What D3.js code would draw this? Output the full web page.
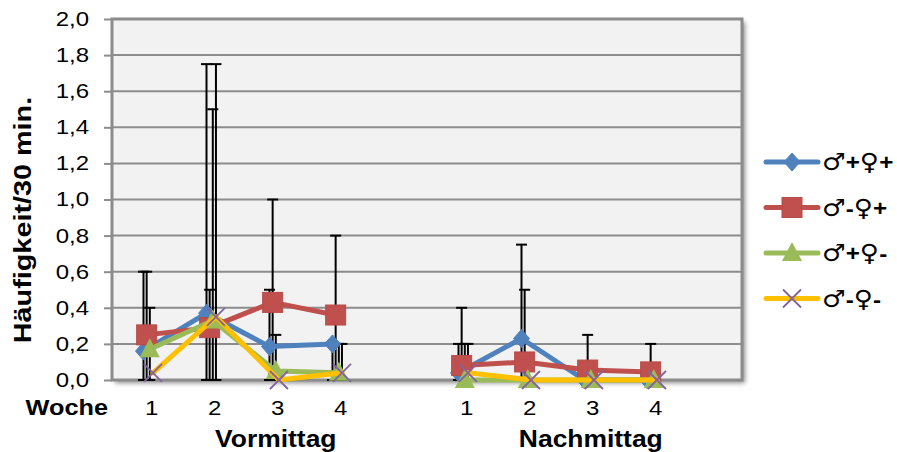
<!DOCTYPE html>
<html>
<head>
<meta charset="utf-8">
<script src="https://cdn.jsdelivr.net/npm/d3@7"></script>
<style>
  body { margin: 0; background: #fff; }
  text { font-family: "Liberation Sans", Arial, sans-serif; fill: #000; }
</style>
</head>
<body>
<svg id="chart" width="897" height="452"></svg>
<script>
// week positions on the x scale (gap between the two day parts)
var weekPos = [1, 2, 3, 4, 6, 7, 8, 9];
var weekLabels = ["1", "2", "3", "4", "1", "2", "3", "4"];
var groupLabels = ["Vormittag", "Nachmittag"];
var yTicks = [0, 0.2, 0.4, 0.6, 0.8, 1.0, 1.2, 1.4, 1.6, 1.8, 2.0];

var seriesNames = ["♂+♀+", "♂-♀+", "♂+♀-", "♂-♀-"];
// means per week (Vm 1-4, Nm 1-4)
var mPlusFPlus  = [0.16, 0.37, 0.185, 0.20, 0.04, 0.23, 0.00, 0.00];
var mMinusFPlus = [0.25, 0.29, 0.43, 0.36, 0.08, 0.10, 0.055, 0.045];
var mPlusFMinus = [0.17, 0.33, 0.05, 0.04, 0.00, 0.00, 0.00, 0.00];
var mMinusFMinus = [0.04, 0.35, 0.00, 0.04, 0.04, 0.00, 0.00, 0.00];
// upper end of the error bars (lower end is 0)
var hiPlusFPlus  = [0.6, 1.75, 0.5, 0.2, 0.2, 0.75, 0, 0];
var hiMinusFPlus = [0.6, 0.5, 1.0, 0.8, 0.4, 0.5, 0.25, 0.2];
var hiPlusFMinus = [0.4, 1.5, 0.25, 0.2, 0.2, 0, 0, 0];
var hiMinusFMinus = [0, 1.75, 0, 0.2, 0.2, 0, 0, 0];

var colors = ["#4F81BD", "#C0504D", "#9BBB59", "#FFC000"];
var shapes = ["diamond", "square", "triangle", "x"];
var offsets = [0, 0.05, 0.1, 0.15];

var series = [
  {name: seriesNames[0], vals: mPlusFPlus, hi: hiPlusFPlus},
  {name: seriesNames[1], vals: mMinusFPlus, hi: hiMinusFPlus},
  {name: seriesNames[2], vals: mPlusFMinus, hi: hiPlusFMinus},
  {name: seriesNames[3], vals: mMinusFMinus, hi: hiMinusFMinus}
];

var svg = d3.select('#chart');
var pLeft = 112, pRight = 742, pTop = 19, pBottom = 380;

var x = d3.scaleLinear().domain([0.5, 10.5]).range([pLeft, pRight]);
var y = d3.scaleLinear().domain([0, 2]).range([pBottom, pTop]);

// text in the source is a little wider than Liberation Sans
function label(tx, ty, sx, size, bold, anchor, str) {
  return svg.append('text')
    .attr('transform', 'translate(' + tx + ',' + ty + ') scale(' + sx + ',1)')
    .attr('text-anchor', anchor)
    .attr('font-size', size)
    .attr('font-weight', bold ? 'bold' : 'normal')
    .text(str);
}

var defs = svg.append('defs');
var f = defs.append('filter').attr('id', 'shadow')
  .attr('x', '-5%').attr('y', '-5%').attr('width', '115%').attr('height', '115%');
f.append('feDropShadow').attr('dx', 3).attr('dy', 3).attr('stdDeviation', 2.5)
  .attr('flood-color', '#000').attr('flood-opacity', 0.45);

// plot area
svg.append('rect')
  .attr('x', pLeft).attr('y', pTop)
  .attr('width', pRight - pLeft).attr('height', pBottom - pTop)
  .attr('fill', '#F2F2F2')
  .attr('filter', 'url(#shadow)');

// grid
svg.append('g')
  .selectAll('line')
  .data(yTicks.slice(1))
  .join('line')
  .attr('x1', pLeft).attr('x2', pRight)
  .attr('y1', function(d) { return y(d); })
  .attr('y2', function(d) { return y(d); })
  .attr('stroke', '#8C8C8C').attr('stroke-width', 2);

// y axis
var yAxis = d3.axisLeft(y)
  .tickValues(yTicks)
  .tickSize(8)
  .tickPadding(0)
  .tickFormat(function(d) { return d3.format('.1f')(d).replace('.', ','); });
var ga = svg.append('g').attr('transform', 'translate(' + pLeft + ',0)').call(yAxis);
ga.select('.domain').remove();
ga.selectAll('.tick line').attr('stroke', '#8C8C8C').attr('stroke-width', 2);
ga.selectAll('.tick text')
  .attr('x', null)
  .attr('transform', 'translate(-23,0) scale(1.2,1)')
  .attr('font-size', 20).attr('fill', '#000')
  .style('font-family', '"Liberation Sans", Arial, sans-serif');

// frame
svg.append('rect')
  .attr('x', pLeft).attr('y', pTop)
  .attr('width', pRight - pLeft).attr('height', pBottom - pTop)
  .attr('fill', 'none').attr('stroke', '#8C8C8C').attr('stroke-width', 3);

// x labels
weekLabels.forEach(function(d, i) {
  label(x(weekPos[i] + 0.13), 415, 1.2, 20, false, 'middle', d);
});
label(108, 415, 1.15, 22, true, 'end', 'Woche');
label(x(3.1), 447, 1.15, 23, true, 'middle', groupLabels[0]);
label(x(8.1), 447, 1.15, 23, true, 'middle', groupLabels[1]);

svg.append('text')
  .attr('transform', 'translate(31,220) rotate(-90) scale(1.2,1)')
  .attr('text-anchor', 'middle')
  .attr('font-size', 24).attr('font-weight', 'bold')
  .text('Häufigkeit/30 min.');

// error bars
var gErr = svg.append('g');
series.forEach(function(s, si) {
  s.hi.forEach(function(h, i) {
    if (!h) return;
    var cx = x(weekPos[i] + offsets[si]);
    gErr.append('line')
      .attr('x1', cx).attr('x2', cx).attr('y1', y(0)).attr('y2', y(h))
      .attr('stroke', '#000').attr('stroke-width', 2);
    [0, h].forEach(function(v) {
      gErr.append('line')
        .attr('x1', cx - 5.5).attr('x2', cx + 5.5)
        .attr('y1', y(v)).attr('y2', y(v))
        .attr('stroke', '#000').attr('stroke-width', 2);
    });
  });
});

function drawMarker(g, shape, cx, cy, color) {
  if (shape === 'diamond') {
    g.append('path')
      .attr('d', 'M' + cx + ',' + (cy - 9) + 'L' + (cx + 8) + ',' + cy + 'L' + cx + ',' + (cy + 9) + 'L' + (cx - 8) + ',' + cy + 'Z')
      .attr('fill', color).attr('stroke', color).attr('stroke-width', 1);
  } else if (shape === 'square') {
    g.append('rect')
      .attr('x', cx - 10).attr('y', cy - 10).attr('width', 20).attr('height', 20)
      .attr('fill', color).attr('stroke', '#B74B48').attr('stroke-width', 1);
  } else if (shape === 'triangle') {
    g.append('path')
      .attr('d', 'M' + cx + ',' + (cy - 11) + 'L' + (cx + 10) + ',' + (cy + 8) + 'L' + (cx - 10) + ',' + (cy + 8) + 'Z')
      .attr('fill', color);
  } else {
    g.append('path')
      .attr('d', 'M' + (cx - 9) + ',' + (cy - 9) + 'L' + (cx + 9) + ',' + (cy + 9) + 'M' + (cx + 9) + ',' + (cy - 9) + 'L' + (cx - 9) + ',' + (cy + 9))
      .attr('stroke', '#8064A2').attr('stroke-width', 1.8).attr('fill', 'none');
  }
}

var line = d3.line()
  .x(function(d) { return x(d.x); })
  .y(function(d) { return y(d.v); });

series.forEach(function(s, si) {
  var g = svg.append('g');
  var pts = s.vals.map(function(v, i) { return {x: weekPos[i] + offsets[si], v: v}; });
  [pts.slice(0, 4), pts.slice(4)].forEach(function(seg) {
    g.append('path')
      .attr('d', line(seg))
      .attr('fill', 'none')
      .attr('stroke', colors[si])
      .attr('stroke-width', 5)
      .attr('stroke-linejoin', 'round')
      .attr('stroke-linecap', 'round');
  });
  pts.forEach(function(p) {
    drawMarker(g, shapes[si], x(p.x), y(p.v), colors[si]);
  });
});

// legend
var leg = svg.append('g');
series.forEach(function(s, si) {
  var ly = 162 + si * 45.5;
  leg.append('line')
    .attr('x1', 766).attr('x2', 818).attr('y1', ly).attr('y2', ly)
    .attr('stroke', colors[si]).attr('stroke-width', 5).attr('stroke-linecap', 'round');
  drawMarker(leg, shapes[si], 792, ly, colors[si]);
  var t = leg.append('text')
    .attr('transform', 'translate(822,' + (ly + 8) + ') scale(1.1,1)')
    .attr('font-size', 22);
  s.name.split('').forEach(function(c) {
    var sym = (c === '♂' || c === '♀');
    t.append('tspan')
      .style('font-family', sym ? '"DejaVu Sans", sans-serif' : '"Liberation Sans", Arial, sans-serif')
      .attr('font-weight', sym ? 'normal' : 'bold')
      .attr('font-size', sym ? 24 : 22)
      .text(c);
  });
});
</script>
</body>
</html>
